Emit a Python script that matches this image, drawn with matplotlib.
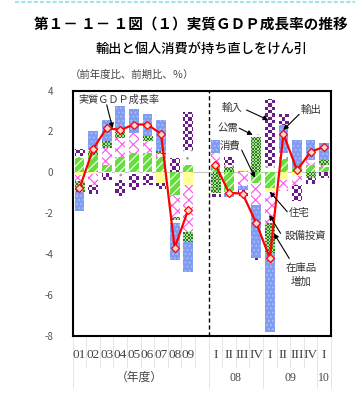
import numpy as np
import matplotlib
matplotlib.use("Agg")
import matplotlib.pyplot as plt
import matplotlib.transforms as mtransforms
from matplotlib.colors import ListedColormap
from matplotlib.lines import Line2D

plt.rcParams["font.family"] = ["Noto Sans CJK JP", "DejaVu Sans"]
plt.rcParams["axes.unicode_minus"] = False
plt.rcParams["hatch.linewidth"] = 0.8

# categories: fiscal years 01-09, then quarters 08 I - 10 I
year_labels = ["01", "02", "03", "04", "05", "06", "07", "08", "09"]
quarter_labels = ["I", "II", "III", "IV", "I", "II", "III", "IV", "I"]
group_labels = ["（年度）", "08", "09", "10"]

# contributions (%pt), 9 years followed by 9 quarters
consumption = [0.71, 0.86, 0.36, 0.77, 0.94, 0.94, 0.77, -1.12, 0.36,
               0.30, -0.90, 0.05, -0.50, -0.79, 0.66, 0.28, 0.36, 0.28]
housing = [-0.15, -0.10, 0.0, 0.0, 0.0, 0.0, -0.54, 0.0, -0.63,
           0.10, 0.0, 0.08, 0.0, -0.17, -0.38, -0.20, 0.0, 0.0]
investment = [-0.30, -0.53, 0.82, 0.90, 0.99, 0.58, 0.15, -1.07, -2.30,
              0.53, -0.12, -0.65, -1.08, -1.50, -0.54, -0.40, 0.25, 0.10]
inventory = [-0.50, 0.20, 0.33, 0.41, 0.0, 0.25, 0.10, -0.15, -0.49,
             -1.00, 0.25, 0.0, 1.71, -1.50, 0.0, 0.0, -0.30, 0.21]
public = [0.08, 0.05, -0.05, -0.36, -0.10, -0.10, 0.0, -0.15, 0.74,
          -0.05, 0.10, 0.0, 0.17, 0.31, 0.28, 0.0, 0.0, 0.0]
exports = [-0.95, 0.90, 1.07, 1.15, 1.15, 1.10, 1.56, -1.81, -1.48,
           0.63, -0.18, -0.20, -2.62, -3.85, 1.40, 1.32, 0.99, 0.85]
imports = [0.36, -0.41, -0.33, -0.82, -0.75, -0.53, -0.28, 0.69, 1.86,
           -0.15, 0.38, -0.30, -0.08, 3.30, 0.53, -0.82, -0.25, -0.30]
gdp = [-0.79, 1.14, 2.17, 2.07, 2.34, 2.34, 1.88, -3.69, -1.83,
       0.36, -1.00, -1.05, -2.48, -4.20, 1.88, 0.10, 1.00, 1.25]

x = np.concatenate([np.arange(9), np.arange(10, 19)])

fig = plt.figure(figsize=(3.59, 4.0), dpi=100)
ax = fig.add_axes([0.2025, 0.1608, 0.7195, 0.6127])
XLIM = (-0.5, 18.5)
YLIM = (-8, 4)


def checker(bars, cell, c1, c2, z):
    w = 0.7195 * 359
    h = 0.6127 * 400
    nx, ny = int(w / cell), int(h / cell)
    pat = np.add.outer(np.arange(ny), np.arange(nx)) % 2
    for b in bars:
        if b.get_height() == 0:
            continue
        im = ax.imshow(pat, extent=(*XLIM, *YLIM), aspect="auto", origin="lower",
                       cmap=ListedColormap([c1, c2]), interpolation="nearest", zorder=z)
        im.set_clip_path(b)


styles = [
    (consumption, dict(color="#66dd3c", edgecolor="white", hatch="////", linewidth=0), None),
    (housing, dict(color="#ffff99", linewidth=0), None),
    (investment, dict(color="white", edgecolor="#ff55ee", hatch="xxx", linewidth=0), None),
    (inventory, dict(color="#7fc060", linewidth=0), (1.6, "#2f7a2a", "#a8e08a")),
    (public, dict(color="white", edgecolor="#9aaa9a", hatch="..", linewidth=0), None),
    (exports, dict(color="#7f9cf2", edgecolor="#a9bdfa", hatch="....", linewidth=0), None),
    (imports, dict(color="#6a1b8a", linewidth=0), (3.3, "#6a1b8a", "white")),
]

pos = np.zeros(len(x))
neg = np.zeros(len(x))
for vals, st, tex in styles:
    v = np.array(vals)
    bottom = np.where(v >= 0, pos, neg)
    bars = ax.bar(x, v, width=0.72, bottom=bottom, zorder=2, **st)
    if tex:
        checker(bars, tex[0], tex[1], tex[2], 2.1)
    pos += np.clip(v, 0, None)
    neg += np.clip(v, None, 0)

for sl in (slice(0, 9), slice(9, 18)):
    ax.plot(x[sl], gdp[sl], color="red", lw=1.6, marker="D", ms=4,
            mfc="#ffd6d6", mec="red", mew=0.9, zorder=5)

ax.axhline(0, color="#c8c8c8", lw=0.8, zorder=1)
ax.axvline(9.5, color="black", lw=1, ls=(0, (3, 2)), zorder=3)

ax.set_xlim(*XLIM)
ax.set_ylim(*YLIM)
ax.set_xticks([])
ax.set_yticks(range(-8, 5, 2))
ax.set_yticklabels([str(t) for t in range(-8, 5, 2)])
ax.tick_params(axis="y", length=0, pad=14, labelsize=7, labelcolor="#555555")
for s in ax.spines.values():
    s.set_linewidth(1.5)

# category axis labels
tr = mtransforms.blended_transform_factory(ax.transData, ax.transAxes)
for xi, lab in zip(x, year_labels + quarter_labels):
    ax.text(xi, -0.079, lab, transform=tr, ha="center", va="center",
            family="Liberation Serif", fontsize=9.5, color="#444444")
for xi, lab in zip([4.4, 11.5, 15.5, 18], group_labels):
    ax.text(xi, -0.173, lab, transform=tr, ha="center", va="center",
            family=["Liberation Serif", "Noto Sans CJK JP"], fontsize=8.5, color="#444444")
for b in np.arange(-0.5, 19):
    ax.plot([b, b], [0, -0.128], transform=tr, color="#e2e2e2", lw=0.6, clip_on=False)
for b in [-0.5, 9.5, 13.5, 17.5, 18.5]:
    ax.plot([b, b], [-0.128, -0.213], transform=tr, color="#e2e2e2", lw=0.6, clip_on=False)

# annotations
arrow = dict(arrowstyle="-|>", color="black", lw=0.8, mutation_scale=7, shrinkA=0, shrinkB=0)
ax.text(-0.11, 3.54, "実質ＧＤＰ成長率", ha="left", va="center", fontsize=7.3, color="#333333", zorder=6)
ax.annotate("", xy=(2.44, 2.16), xytext=(2.0, 3.3), arrowprops=arrow, zorder=6)
notes = [
    ("輸入", (11.19, 3.13), (12.29, 3.05), (13.88, 2.56)),
    ("輸出", (17.01, 3.05), (16.16, 2.84), (14.99, 2.07)),
    ("公需", (10.88, 2.16), (11.75, 2.16), (12.74, 1.83)),
    ("消費", (11.07, 1.29), (11.93, 1.09), (12.9, -0.26)),
    ("住宅", (16.14, -2.01), (15.28, -1.93), (14.0, -0.95)),
    ("設備投資", (16.58, -3.11), (14.79, -2.99), (13.96, -2.09)),
    ("在庫品\n増加", (16.32, -5.03), (15.43, -4.22), (14.3, -2.99)),
]
for txt, tpos, a0, a1 in notes:
    ax.text(*tpos, txt, ha="center", va="center", fontsize=7.5, color="#333333",
            linespacing=1.4, zorder=6)
    ax.annotate("", xy=a1, xytext=a0, arrowprops=arrow, zorder=6)

# titles
fig.add_artist(Line2D([15 / 359, 355 / 359], [1 - 2 / 400] * 2, color="#9fe3f0", lw=1.5, ls=(0, (2, 1))))
fig.text(0.532, 1 - 24 / 400, "第１－ １－ １図（１）実質ＧＤＰ成長率の推移", ha="center", va="center",
         fontsize=10.5, fontweight="bold")
fig.text(0.56, 1 - 49 / 400, "輸出と個人消費が持ち直しをけん引", ha="center", va="center",
         fontsize=9.5, fontweight="medium")
fig.text(0.195, 1 - 75 / 400, "（前年度比、前期比、％）", ha="left", va="center",
         fontsize=7.5, color="#444444")

fig.savefig("out.png", dpi=100)
